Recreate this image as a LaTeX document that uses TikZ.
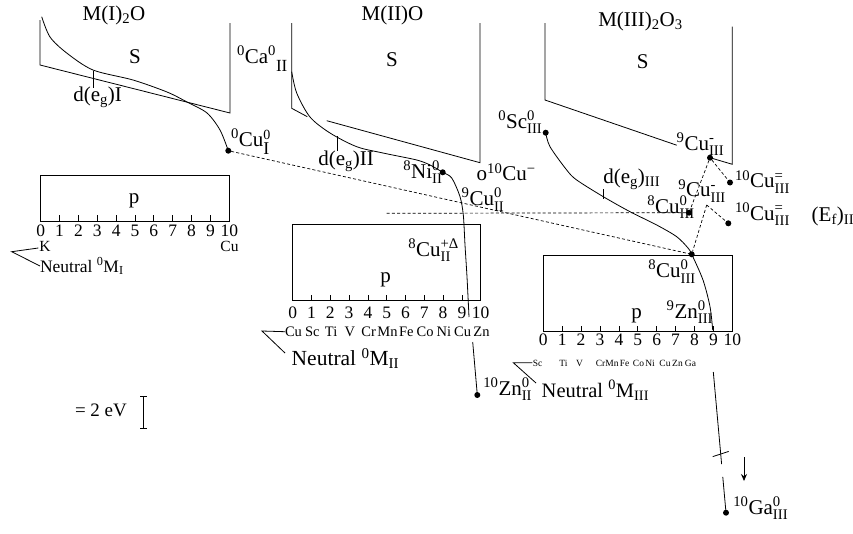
\documentclass[tikz,border=0pt]{standalone}
\usepackage{amsmath}
\usepackage{fontspec}
\setmainfont{Liberation Serif}
\usetikzlibrary{arrows.meta,calc}
\newcommand{\lbl}[4]{$^{\text{#1}}$#2$^{\text{#3}}_{\text{#4}}$}
\begin{document}
\begin{tikzpicture}[x=1pt,y=-1pt,
  every node/.style={inner sep=0pt, outer sep=0pt},
  ln/.style={line width=0.8pt},
  dsh/.style={line width=0.7pt, dash pattern=on 3pt off 2.2pt},
  dot/.style={circle, fill=black, minimum size=6pt, inner sep=0pt},
  big/.style={font=\fontsize{21}{23}\selectfont},
  dig/.style={font=\fontsize{17.5}{19}\selectfont, anchor=base},
  nmII/.style={font=\fontsize{14.5}{16}\selectfont, anchor=base},
  nmIII/.style={font=\fontsize{9.5}{11}\selectfont, anchor=base}]
\useasboundingbox (0,0) rectangle (853,533);

% ---------- panel I ----------
\draw[ln] (40,20) -- (40,65) -- (230,113) -- (230,23);
\node[big, anchor=base] (tI) at (114,20) {M(I)$_{\text{2}}$O};
\node[big, anchor=base] (sI) at (135,63.3) {S};
\coordinate (cIs) at (41.7,16.7);
\node[dot] (cuI) at (228.3,150.7) {};
\draw[ln] plot[smooth] coordinates {(cIs) (50,37) (66.7,53) (93,70) (133,80) (167,92) (187,102) (207,113) (220,130) (cuI.center)};
\draw[ln] (93.3,71) -- (93.3,88.3);
\node[big, anchor=base west] (dI) at (73.3,101.5) {d(e$_{\text{g}}$)I};
\node[big, anchor=base west] (lcuI) at (231,146.5) {$^{\text{0}}$Cu\rlap{\raisebox{7pt}{\fontsize{14}{14}\selectfont 0}}\raisebox{-8pt}{\fontsize{18}{18}\selectfont I}};

\draw[ln] (40.7,175.7) rectangle (229.3,221.7);
\foreach \k in {1,...,9} \draw[ln] ({40.7+18.86*\k},221.7) -- ++(0,-6.7);
\foreach \k in {0,...,10} \node[dig] (dgI\k) at ({40.7+18.86*\k},236.8) {\k};
\node[big, anchor=base] (pI) at (134,203.3) {p};
\node[font=\fontsize{15.5}{17}\selectfont, anchor=base west] (kI) at (39.3,251) {K};
\node[font=\fontsize{15.5}{17}\selectfont, anchor=base] (cuIlab) at (229.5,251.5) {Cu};
\node[font=\fontsize{17.5}{19}\selectfont, anchor=base west] (nI) at (40,272) {Neutral $^{\text{0}}$M$_{\text{I}}$};
\draw[ln] (38.3,248) -- (11.7,251.7) -- (40,266);

% ---------- panel II ----------
\draw[ln] (291.7,23) -- (291.7,108.3) -- (307.3,116.7);
\draw[ln] (326.7,120.7) -- (480,162.7) -- (480,23);
\node[big, anchor=base] (tII) at (392.5,20.7) {M(II)O};
\node[big, anchor=base] (sII) at (392,66) {S};
\node[big, anchor=base west] (ca) at (237,63.3) {$^{\text{0}}$Ca$^{\text{0}}$\raisebox{-8pt}{\fontsize{17}{17}\selectfont II}};
\coordinate (cIIs) at (291.7,71.7);
\node[dot] (ni) at (442.7,172.3) {};
\node[dot] (zn) at (477.3,395) {};
\draw[ln] plot[smooth] coordinates {(cIIs) (296.7,93) (310,117) (330,133) (356.7,146.7) (383,153) (416.7,160) (430,165) (ni.center) (451.7,178) (460,196.7) (463.3,215) (465,245) (467,277) (469,317)};
\draw[ln] (472.7,342) -- (zn.center);
\draw[ln] (337.3,136) -- (337.3,151);
\node[big, anchor=base west] (dII) at (318.3,165.7) {d(e$_{\text{g}}$)II};
\node[big, anchor=base west] (lni) at (403.3,178.3) {\lbl{8}{Ni}{0}{II}};
\node[big, anchor=base west] (lcum) at (476.7,180.7) {o$^{\text{10}}$Cu$^{\text{−}}$};
\node[big, anchor=base west] (lcuII) at (461.7,205.5) {\lbl{9}{Cu}{0}{II}};

\draw[ln] (292.7,224.3) rectangle (480.7,300.7);
\foreach \k in {1,...,9} \draw[ln] ({292.7+18.8*\k},300.7) -- ++(0,-5.7);
\foreach \k in {0,...,10} \node[dig] (dgII\k) at ({292.7+18.8*\k},318.3) {\k};
\foreach \n [count=\i from 0] in {Cu,Sc,Ti,V,Cr,Mn,Fe,Co,Ni,Cu,Zn}
  \node[nmII] (nmII\i) at ({293.5+18.8*\i},336.7) {\n};
\node[big, anchor=base] (pII) at (385.5,282) {p};
\node[big, anchor=base west] (lcud) at (408.3,256) {\lbl{8}{Cu}{+Δ}{II}};
\node[font=\fontsize{21.5}{23}\selectfont, anchor=base west] (nII) at (291.7,365.7) {Neutral $^{\text{0}}$M$_{\text{II}}$};
\draw[ln] (285,331.7) -- (262,331) -- (285,353);
\node[big, anchor=base west] (lzn) at (483.3,395) {\lbl{10}{Zn}{0}{II}};

% ---------- panel III ----------
\node[dot] (sc) at (545.7,132.7) {};
\node[dot] (t9) at (710,157.7) {};
\node[dot] (u10) at (730,182.5) {};
\coordinate (m9) at (706.7,205);
\node[dot] (e8) at (689,212.7) {};
\node[dot] (l10) at (728.3,223.3) {};
\node[dot] (b8) at (691.7,254.3) {};
\node[dot] (ga) at (726,512.7) {};
\draw[ln] (545,23) -- (545,100) -- (676.7,145.2);
\draw[ln] (t9.center) -- (732.3,164.3) -- (732.3,26.7);
\node[big, anchor=base] (tIII) at (640.5,26) {M(III)$_{\text{2}}$O$_{\text{3}}$};
\node[big, anchor=base] (sIII) at (642.7,68) {S};
\draw[ln] plot[smooth] coordinates {(sc.center) (550,146.7) (566.7,170) (576.7,180) (603.3,196.7) (630,211.7) (656.7,225) (676.7,236.7) (688,248) (b8.center) (703,280) (710,306.7) (712.7,330)};
\draw[ln] (603.3,189) -- (603.3,199);
\node[big, anchor=base west] (dIII) at (603.3,183.3) {d(e$_{\text{g}}$)$_{\text{III}}$};
\node[big, anchor=base west] (lsc) at (498.3,128.3) {\lbl{0}{Sc}{0}{III}};
\node[big, anchor=base west] (lt9) at (676.7,150) {\lbl{9}{Cu}{-}{III}};
\node[big, anchor=base west] (lu10) at (735,187.7) {\lbl{10}{Cu}{=}{III}};
\node[big, anchor=base west] (lm9) at (678.3,196.7) {\lbl{9}{Cu}{-}{III}};
\node[big, anchor=base west] (le8) at (647.3,213.3) {\lbl{8}{Cu}{0}{III}};
\node[big, anchor=base west] (ll10) at (735,220) {\lbl{10}{Cu}{=}{III}};
\node[big, anchor=base west] (ef) at (811.7,221.5) {(E$_{\text{f}}$)$_{\text{II}}$};
\node[big, anchor=base west] (lb8) at (648.3,277.5) {\lbl{8}{Cu}{0}{III}};

\coordinate (gP) at (713.3,372);
\draw[ln] (gP) -- ($(gP)!0.583!(ga.center)$) coordinate (gbar) -- ($(gP)!0.654!(ga.center)$);
\draw[ln] ($(gP)!0.746!(ga.center)$) -- (ga.center);
\draw[ln] ($(gbar)+(-8,2.6)$) -- ($(gbar)+(8,-2.6)$);
\coordinate (arA) at (744,457);
\coordinate (arB) at (744,481);
\draw[ln, -{Stealth[length=7pt,width=6pt]}] (arA) -- (arB);
\node[big, anchor=base west] (lga) at (733.3,514) {\lbl{10}{Ga}{0}{III}};

\draw[ln] (543.3,255) rectangle (732.3,331.7);
\foreach \k in {1,...,9} \draw[ln] ({543.3+18.9*\k},331.7) -- ++(0,-5.7);
\foreach \k in {0,...,10} \node[dig] (dgIII\k) at ({543.3+18.9*\k},345) {\k};
\foreach \n/\x [count=\i] in {Sc/537.5,Ti/563.5,V/579.5,Cr/600.5,Mn/612,Fe/624.5,Co/638.5,Ni/650,Cu/665,Zn/677.5,Ga/690.5}
  \node[nmIII] (nmIII\i) at (\x,366.7) {\n};
\node[big, anchor=base] (pIII) at (636.7,318) {p};
\node[big, anchor=base west] (lzn9) at (666.7,318.3) {\lbl{9}{Zn}{0}{III}};
\node[font=\fontsize{20.5}{22}\selectfont, anchor=base west] (nIII) at (541.7,397) {Neutral $^{\text{0}}$M$_{\text{III}}$};
\draw[ln] (532.3,362.7) -- (513.3,362.7) -- (536,383);

% ---------- dashed connectors ----------
\coordinate (hd) at (386.7,213.3);
\draw[dsh] (cuI) -- (b8);
\draw[dsh] (hd) -- (e8);
\draw[dsh] (t9) -- (e8);
\draw[dsh] (t9) -- (u10);
\draw[dsh] (m9) -- (l10);
\draw[dsh] (m9) -- (b8);

% ---------- scale ----------
\node[font=\fontsize{19}{21}\selectfont, anchor=base west] (ev) at (75,416.5) {= 2 eV};
\draw[ln] (140,396.7) -- (146.6,396.7) (143.3,396.7) -- (143.3,428.3) (140,428.3) -- (146.6,428.3);
\end{tikzpicture}
\end{document}
